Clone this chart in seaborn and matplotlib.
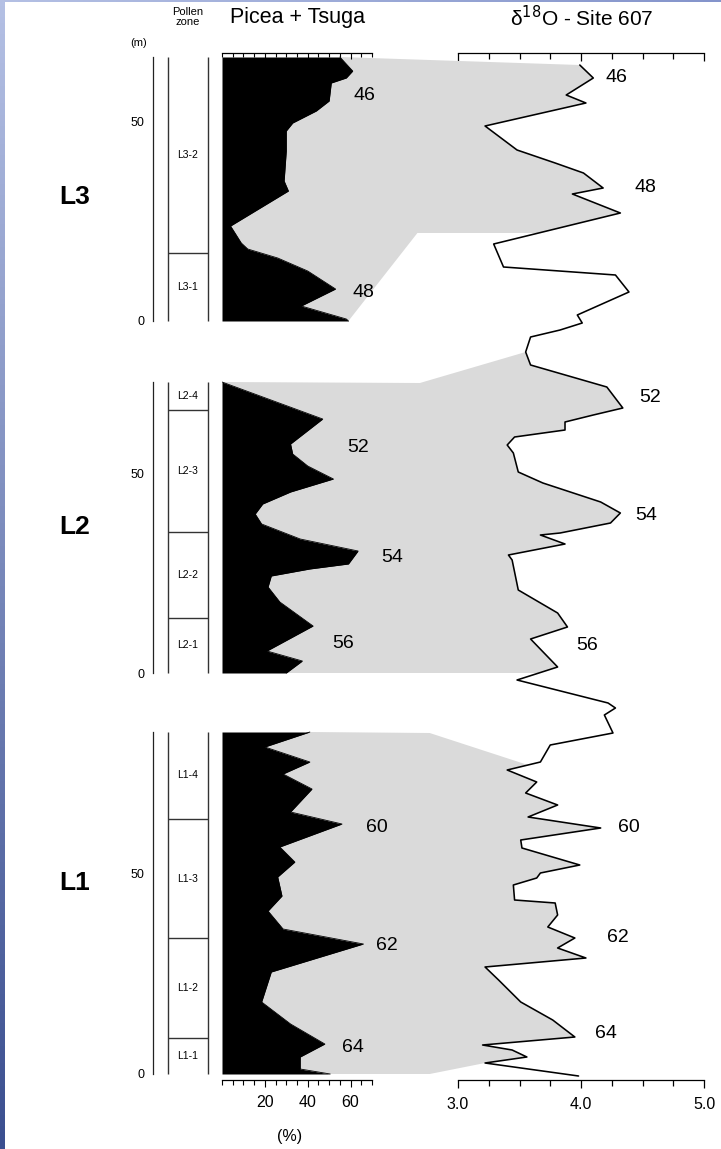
import numpy as np
import matplotlib
matplotlib.use("Agg")
import matplotlib.pyplot as plt
import seaborn as sns
from matplotlib.patches import Polygon
from matplotlib.colors import LinearSegmentedColormap
from matplotlib.ticker import MultipleLocator, FixedLocator, FuncFormatter

# Picea + Tsuga pollen (%) against depth (m) in each section
l3_depth = [66, 62.5, 60.75, 59.5, 55, 52.5, 49.5, 47.5, 42.5, 35, 32.5, 23.75, 19.5, 18, 15.75, 12.5, 8, 3.75, 0.5, 0]
l3_pct = [55, 61, 58, 51, 50, 44, 33, 30, 30, 29, 31, 4, 9, 12, 26, 40, 53, 37, 58, 59]

l2_depth = [72.75, 63.5, 57.25, 54.75, 51.75, 48.5, 45.25, 42.25, 39.75, 37.25, 33.5, 30.5, 27.25, 26,
            24.25, 21.5, 17.75, 11.75, 5.5, 3, 0]
l2_pct = [0, 47, 32, 33, 40, 52, 32, 19, 15.5, 18.5, 36.5, 63.5, 59, 41, 23, 21.5, 27, 42.5, 21, 37.5, 30]

l1_depth = [85.5, 81.75, 78, 75, 71.25, 65.5, 62.5, 56.75, 53, 49.25, 44.5, 40.75, 36.25, 32.5, 25.5, 18,
            12.5, 7.5, 4.25, 1.25, 0]
l1_pct = [41, 20, 41, 28.5, 42, 32, 56, 27, 34, 26, 28, 21.5, 28.5, 66, 23, 18.5, 32, 48, 36.5, 36.5, 50.5]

# pollen zones
l3_zone_bounds = [17.0]
l3_zone_names = ["L3-1", "L3-2"]
l2_zone_bounds = [13.75, 35.25, 65.75]
l2_zone_names = ["L2-1", "L2-2", "L2-3", "L2-4"]
l1_zone_bounds = [9.0, 34.0, 63.75]
l1_zone_names = ["L1-1", "L1-2", "L1-3", "L1-4"]

section_names = ["L3", "L2", "L1"]
section_offset = [188.25, 100.25, 0.0]      # m of each section's base on the composite scale
section_top = [66.0, 72.75, 85.5]

# d18O Site 607 against composite depth
iso_depth = [252.25, 249.0, 244.75, 242.75, 237.0, 231.0, 227.75, 225.25, 221.5, 220.0, 215.25, 207.5,
             201.75, 199.75, 195.5, 189.75, 187.75, 186.0, 184.25, 180.5, 177.25, 171.75, 166.5, 164.75,
             163.0, 161.0, 159.25, 157.25, 155.25, 150.5, 147.75, 143.0, 140.25, 137.75, 135.25, 134.75,
             132.5, 129.75, 128.5, 121.0, 115.25, 111.75, 108.75, 101.75, 98.5, 92.75, 91.5, 89.75, 85.25,
             82.25, 78.0, 76.0, 73.0, 70.25, 67.25, 64.25, 61.5, 58.5, 56.5, 52.25, 50.25, 49.0, 47.25,
             43.5, 42.75, 39.75, 36.75, 34.0, 31.5, 29.0, 26.75, 23.5, 18.0, 13.5, 9.25, 7.25, 6.0, 4.25,
             2.75, -0.5]
iso_value = [3.99, 4.10, 3.88, 4.04, 3.22, 3.48, 3.79, 4.02, 4.18, 3.93, 4.32, 3.29,
             3.37, 4.28, 4.39, 3.97, 4.01, 3.83, 3.59, 3.55, 3.59, 4.21, 4.34, 4.10,
             3.87, 3.87, 3.46, 3.40, 3.45, 3.49, 3.69, 4.16, 4.32, 4.24, 3.83, 3.67,
             3.87, 3.41, 3.44, 3.49, 3.81, 3.89, 3.59, 3.81, 3.48, 4.22, 4.28, 4.19, 4.26,
             3.75, 3.67, 3.40, 3.64, 3.55, 3.81, 3.57, 4.16, 3.51, 3.52, 3.99, 3.67, 3.64, 3.45,
             3.46, 3.79, 3.81, 3.73, 3.95, 3.81, 4.04, 3.22, 3.33, 3.51, 3.77, 3.95, 3.20, 3.44, 3.56,
             3.22, 3.98]

# correlation ties between pollen sections and the isotope record
tie_iso_low = [210.25, 100.25, 2.75]
tie_iso_high = [252.25, 180.5, 77.25]
tie_corner_low = [(2.67, 210.25), None, (2.77, 0.0)]
tie_corner_high = [None, (2.69, 172.75), (2.77, 85.25)]

# isotope stage labels
stage_names = ["46", "48", "52", "54", "56", "60", "62", "64"]
stage_section = [0, 0, 1, 1, 1, 2, 2, 2]
stage_pct = [66.7, 65.8, 63.5, 79.3, 56.5, 72.3, 77.0, 61.0]
stage_pollen_depth = [56.5, 7.0, 56.25, 29.0, 7.5, 61.5, 32.0, 6.75]
stage_iso_value = [4.29, 4.52, 4.56, 4.53, 4.05, 4.39, 4.30, 4.20]
stage_iso_depth = [249.0, 221.5, 169.0, 139.75, 107.25, 61.5, 34.0, 10.25]

sns.set_style("white")
plt.rcParams["font.family"] = ["Liberation Sans", "DejaVu Sans"]
plt.rcParams["text.color"] = "black"
plt.rcParams["xtick.color"] = "black"
plt.rcParams["ytick.color"] = "black"
plt.rcParams["axes.edgecolor"] = "black"

W, H = 721, 1149
PX_PER_M = 4.0
BASE_Y = 1074
GREY = "#dadada"


def box(x0, y0, x1, y1):
    return [x0 / W, 1 - y1 / H, (x1 - x0) / W, (y1 - y0) / H]


def row(m):
    return BASE_Y - m * PX_PER_M


def ftext(x, y, s, **kw):
    fig.text(x / W, 1 - y / H, s, **kw)


def iso_seg(lo, hi):
    m = np.array(iso_depth)[::-1]
    v = np.array(iso_value)[::-1]
    inner = (m > lo) & (m < hi)
    pts = [(np.interp(lo, m, v), lo)]
    pts += list(zip(v[inner], m[inner]))
    pts.append((np.interp(hi, m, v), hi))
    return pts


fig = plt.figure(figsize=(W / 100, H / 100), dpi=100)

# blue frame strips
cmap_side = LinearSegmentedColormap.from_list("side", ["#b4c0e4", "#3b4f90"])
ax_bg = fig.add_axes(box(0, 0, 5, H))
ax_bg.imshow(np.linspace(0, 1, 200).reshape(-1, 1), aspect="auto", cmap=cmap_side)
ax_bg.axis("off")
cmap_top = LinearSegmentedColormap.from_list("top", ["#b4c0e4", "#8494cb"])
ax_tp = fig.add_axes(box(0, 0, W, 2.5))
ax_tp.imshow(np.linspace(0, 1, 200).reshape(1, -1), aspect="auto", cmap=cmap_top)
ax_tp.axis("off")

# isotope axis over the whole height
iso_lim = (-1.5, 255.25)
ax_iso = fig.add_axes(box(458, row(iso_lim[1]), 704, row(iso_lim[0])))
ax_iso.set_facecolor("none")
ax_iso.set_zorder(1)
sns.lineplot(x=iso_value, y=iso_depth, sort=False, estimator=None, color="black", linewidth=1.15, ax=ax_iso)
ax_iso.set_xlim(3.0, 5.0)
ax_iso.set_ylim(*iso_lim)
ax_iso.set_xlabel("")
ax_iso.set_ylabel("")
ax_iso.set_yticks([])
for s in ["left", "right", "top"]:
    ax_iso.spines[s].set_visible(False)
ax_iso.spines["bottom"].set_linewidth(0.9)
ax_iso.xaxis.set_major_locator(FixedLocator([3.0, 4.0, 5.0]))
ax_iso.xaxis.set_minor_locator(MultipleLocator(0.25))
ax_iso.xaxis.set_major_formatter(FuncFormatter(lambda v, p: f"{v:.1f}"))
ax_iso.tick_params(axis="x", which="both", direction="out", bottom=True, top=False, width=0.9,
                   labelsize=11.5, pad=6, colors="black")
ax_iso.tick_params(axis="x", which="major", length=6)
ax_iso.tick_params(axis="x", which="minor", length=4)
sec = ax_iso.secondary_xaxis("top")
sec.xaxis.set_major_locator(FixedLocator([3.0, 4.0, 5.0]))
sec.xaxis.set_minor_locator(MultipleLocator(0.25))
sec.tick_params(axis="x", which="both", direction="in", labeltop=False, width=0.9, colors="black")
sec.tick_params(axis="x", which="major", length=6)
sec.tick_params(axis="x", which="minor", length=4)
sec.spines["top"].set_linewidth(0.9)
sec.spines["top"].set_color("black")

for i, v, m in zip(range(len(stage_names)), stage_iso_value, stage_iso_depth):
    ax_iso.text(v, m, stage_names[i], ha="center", va="center", fontsize=14, color="black")

pollen_depths = [l3_depth, l2_depth, l1_depth]
pollen_pcts = [l3_pct, l2_pct, l1_pct]
zone_bounds = [l3_zone_bounds, l2_zone_bounds, l1_zone_bounds]
zone_names = [l3_zone_names, l2_zone_names, l1_zone_names]
ylims = [(-0.25, 67.0), (-0.25, 73.0), (-1.5, 86.0)]
label_rows = [197, 527, 883]

for k in range(3):
    off = section_offset[k]
    lo, hi = ylims[k]
    top = section_top[k]
    depth = pollen_depths[k]
    pct = pollen_pcts[k]

    # pollen curve
    ax_p = fig.add_axes(box(222, row(off + hi), 372, row(off + lo)))
    ax_p.set_facecolor("none")
    ax_p.set_zorder(2)
    ax_p.fill_betweenx(depth, 0, pct, color="black", linewidth=0)
    sns.lineplot(x=pct, y=depth, sort=False, estimator=None, color="black", linewidth=0.6, ax=ax_p)
    ax_p.set_xlim(0, 70)
    ax_p.set_ylim(lo, hi)
    ax_p.set_xlabel("")
    ax_p.set_ylabel("")
    ax_p.set_yticks([])
    for s in ax_p.spines.values():
        s.set_visible(False)
    ax_p.xaxis.set_major_locator(FixedLocator([20, 40, 60]))
    ax_p.xaxis.set_minor_locator(MultipleLocator(5))
    if k == 0:
        ax_p.spines["top"].set_visible(True)
        ax_p.spines["top"].set_linewidth(0.9)
        ax_p.tick_params(axis="x", which="both", top=True, bottom=False, labeltop=False,
                         labelbottom=False, direction="in", width=0.8)
        ax_p.tick_params(axis="x", which="major", length=4)
        ax_p.tick_params(axis="x", which="minor", length=3)
    elif k == 2:
        ax_p.spines["bottom"].set_visible(True)
        ax_p.spines["bottom"].set_linewidth(0.9)
        ax_p.tick_params(axis="x", which="both", bottom=True, direction="out", width=0.8,
                         labelsize=11.5, pad=6)
        ax_p.tick_params(axis="x", which="major", length=5)
        ax_p.tick_params(axis="x", which="minor", length=3.5)
    else:
        ax_p.set_xticks([])
        ax_p.set_xticks([], minor=True)

    # grey band linking the pollen section to the isotope record
    disp = ax_p.transData.transform(np.column_stack([pct, depth]))
    verts = [tuple(p) for p in ax_iso.transData.inverted().transform(disp)]
    if tie_corner_low[k] is not None:
        verts.append(tie_corner_low[k])
    verts += iso_seg(tie_iso_low[k], tie_iso_high[k])
    if tie_corner_high[k] is not None:
        verts.append(tie_corner_high[k])
    ax_iso.add_patch(Polygon(verts, closed=True, facecolor=GREY, edgecolor="none",
                             clip_on=False, zorder=0.5))

    for j in range(len(stage_names)):
        if stage_section[j] == k:
            ax_p.text(stage_pct[j], stage_pollen_depth[j], stage_names[j], ha="center",
                      va="center", fontsize=14, color="black")

    # depth scale and pollen zones
    ax_d = fig.add_axes(box(153, row(off + hi), 208, row(off + lo)))
    ax_d.set_facecolor("none")
    ax_d.set_xlim(0, 1)
    ax_d.set_ylim(lo, hi)
    for s in ["right", "top", "bottom"]:
        ax_d.spines[s].set_visible(False)
    ax_d.spines["left"].set_bounds(0, top)
    ax_d.spines["left"].set_linewidth(0.9)
    ax_d.spines["left"].set_color("#222222")
    ax_d.set_xticks([])
    ax_d.yaxis.set_major_locator(MultipleLocator(10))
    ax_d.yaxis.set_minor_locator(MultipleLocator(5))
    ax_d.yaxis.set_major_formatter(FuncFormatter(lambda v, p: f"{v:.0f}" if v in (0, 50) else ""))
    ax_d.tick_params(axis="y", which="both", direction="out", width=0.8, labelsize=9, pad=2)
    ax_d.tick_params(axis="y", which="major", length=4)
    ax_d.tick_params(axis="y", which="minor", length=2.5)

    zl = (168 - 153) / (208 - 153)
    ax_d.vlines([zl, 1.0], 0, top, color="#333333", linewidth=1.0, clip_on=False)
    ax_d.hlines(zone_bounds[k], zl, 1.0, color="#333333", linewidth=1.0, clip_on=False)
    edges = [0] + zone_bounds[k] + [top]
    for j, name in enumerate(zone_names[k]):
        ax_d.text((zl + 1.0) / 2, (edges[j] + edges[j + 1]) / 2, name, ha="center", va="center",
                  fontsize=7.5, color="black")

    ftext(75, label_rows[k], section_names[k], ha="center", va="center", fontsize=19,
          fontweight="bold", color="black")

ftext(297, 18, "Picea + Tsuga", ha="center", va="center", fontsize=15.5, color="black")
ftext(582, 18, "δ$^{18}$O - Site 607", ha="center", va="center", fontsize=15, color="black")
ftext(188, 17, "Pollen\nzone", ha="center", va="center", fontsize=8, linespacing=0.95, color="black")
ftext(139, 43, "(m)", ha="center", va="center", fontsize=8, color="black")
ftext(290, 1137, "(%)", ha="center", va="center", fontsize=11.5, color="black")

fig.savefig("out.png", dpi=100)
print("saved out.png")
